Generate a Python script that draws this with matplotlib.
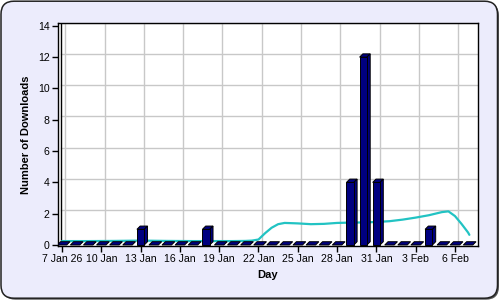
import datetime as dt

import matplotlib
matplotlib.use("Agg")
import matplotlib.dates as mdates
import matplotlib.pyplot as plt
from matplotlib.patches import FancyBboxPatch

plt.rcParams["font.family"] = ["Liberation Sans", "DejaVu Sans"]

# --------------------------------------------------------------------------- #
# data
# --------------------------------------------------------------------------- #
START = dt.datetime(2026, 1, 7)
downloads = [0, 0, 0, 0, 0, 0, 1, 0, 0, 0, 0, 1, 0, 0, 0, 0,
             0, 0, 0, 0, 0, 0, 4, 12, 4, 0, 0, 0, 1, 0, 0, 0]
days = [START + dt.timedelta(days=i) for i in range(len(downloads))]

# smoothed trend (day offset from 7 Jan, value)
trend_offset = [0, 2, 4, 6, 8, 10, 12, 13, 14, 14.5, 15, 15.5, 16, 16.5, 17,
                18, 19, 20, 21, 22, 23, 24, 25, 26, 27, 28, 28.5, 29, 29.5,
                30, 30.5, 31, 31.1]
trend_value = [0.25, 0.25, 0.26, 0.28, 0.26, 0.25, 0.25, 0.25, 0.26, 0.28,
               0.35, 0.75, 1.1, 1.33, 1.41, 1.38, 1.33, 1.35, 1.41, 1.43,
               1.44, 1.47, 1.52, 1.62, 1.75, 1.9, 2.0, 2.1, 2.15, 1.85,
               1.35, 0.8, 0.65]
trend_days = [START + dt.timedelta(days=d) for d in trend_offset]

tick_days = [START + dt.timedelta(days=3 * i) for i in range(11)]
tick_labels = ["7 Jan 26", "10 Jan", "13 Jan", "16 Jan", "19 Jan", "22 Jan",
               "25 Jan", "28 Jan", "31 Jan", "3 Feb", "6 Feb"]
y_ticks = [0, 2, 4, 6, 8, 10, 12, 14]

BAR_COLOR = "#000080"
LINE_COLOR = "#22c3c3"
GRID_COLOR = "#c8c8c8"
BAR_W = 0.56          # days
ZERO_W = 0.72         # zero-height bars look a bit wider (only the top face)
DX, DY = 0.25, 0.21   # 3D depth offset (days, value units)

# --------------------------------------------------------------------------- #
# figure
# --------------------------------------------------------------------------- #
fig = plt.figure(figsize=(5, 3), dpi=100)
fig.patch.set_facecolor("white")
box = dict(boxstyle="round,pad=0,rounding_size=0.026",
           mutation_aspect=500 / 300, transform=fig.transFigure)
shadow = FancyBboxPatch((0.005, 0.001), 0.993, 0.99, facecolor="#555555",
                        edgecolor="none", zorder=-11, **box)
bg = FancyBboxPatch((0.002, 0.006), 0.993, 0.99, facecolor="#ececfc",
                    edgecolor="#222222", linewidth=1.1, zorder=-10, **box)
fig.patches.extend([shadow, bg])

ax = fig.add_axes([58 / 500, 1 - 246 / 300, 420 / 500, (246 - 22.7) / 300])
ax.set_zorder(1)
ax.set_facecolor("white")
x0 = mdates.date2num(START)
ax.set_xlim(x0 - 0.305, x0 + 31.76)
ax.set_ylim(-0.064, 14.2)

# back-wall grid (shifted by the depth offset)
for t in tick_days:
    xt = mdates.date2num(t) + DX
    ax.plot([xt, xt], [DY, 14.2], color=GRID_COLOR, lw=1, zorder=1)
for v in y_ticks[1:]:
    ax.plot([x0 - 0.305 + DX, x0 + 31.76], [v + DY, v + DY],
            color=GRID_COLOR, lw=1, zorder=1)
ax.plot([x0 - 0.305 + DX] * 2, [DY, 14.2], color="black", lw=1, zorder=2)

# trend line
ax.plot(mdates.date2num(trend_days), trend_value, color=LINE_COLOR, lw=1.6,
        zorder=3, solid_capstyle="round")

# 3D bars
for d, h in zip(days, downloads):
    c = mdates.date2num(d)
    w = BAR_W if h > 0 else ZERO_W
    l, r = c - w / 2, c + w / 2
    kw = dict(facecolor=BAR_COLOR, edgecolor="black", linewidth=0.7, zorder=4)
    ax.fill([l, r, r + DX, l + DX], [h, h, h + DY, h + DY], **kw)
    if h > 0:
        ax.fill([r, r + DX, r + DX, r], [0, DY, h + DY, h], **kw)
        ax.fill([l, r, r, l], [0, 0, h, h], **kw)

for s in ["top", "right", "bottom", "left"]:
    ax.spines[s].set_linewidth(1.0)

ax.set_xticks(mdates.date2num(tick_days))
ax.set_xticklabels(tick_labels)
ax.set_yticks(y_ticks)
ax.tick_params(axis="both", labelsize=7.6, length=4, width=1, pad=2)
ax.set_xlabel("Day", fontsize=8, fontweight="bold", labelpad=4)
ax.set_ylabel("Number of Downloads", fontsize=8, fontweight="bold", labelpad=5)

fig.savefig("out.png", dpi=100)
